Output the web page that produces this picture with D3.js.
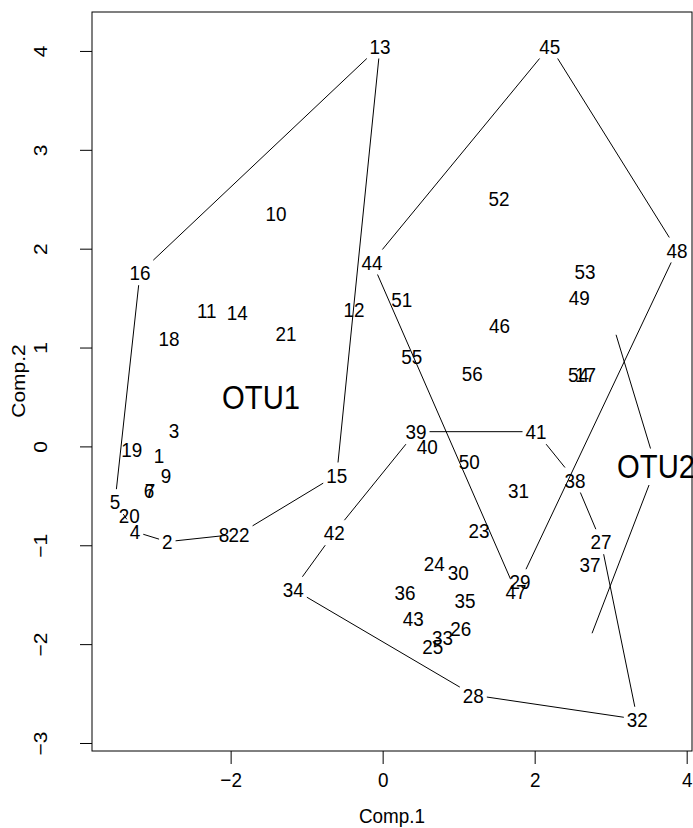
<!DOCTYPE html>
<html lang="en">
<head>
    <meta charset="UTF-8">
    <title>Comp.1 vs Comp.2</title>
    <script src="https://cdn.jsdelivr.net/npm/d3@7"></script>
    <style type="text/css">
        body { margin: 0; background: #fff; }
        text { font-family: "Liberation Sans", Arial, sans-serif; fill: #000; }
        .axis path { display: none; }
        .axis line { stroke: #000; }
    </style>
</head>
<body>
<script>
// sample scores
const sampleIds = d3.range(1, 57).map(String);
const comp1 = [
    -2.942, -2.833, -2.745, -3.258, -3.521, -3.074, -3.061, -2.087, -2.850, -1.403,
    -2.314, -0.376, -0.034, -1.912, -0.604, -3.192,  2.670, -2.811, -3.301, -3.333,
    -1.271, -1.889,  1.268,  0.680,  0.659,  1.028,  2.874,  1.193,  1.808,  0.996,
     1.786,  3.351,  0.786, -1.175,  1.084,  0.295,  2.729,  2.532,  0.439,  0.588,
     2.018, -0.636,  0.404, -0.139,  2.200,  1.536,  1.755,  3.874,  2.588,  1.141,
     0.251,  1.532,  2.663,  2.578,  0.383,  1.180
];
const comp2 = [
    -0.094, -0.964,  0.159, -0.863, -0.559, -0.441, -0.441, -0.886, -0.289,  2.361,
     1.380,  1.390,  4.050,  1.352, -0.289,  1.757,  0.732,  1.093, -0.026, -0.701,
     1.147, -0.886, -0.852, -1.182, -2.019, -1.840, -0.964, -2.515, -1.369, -1.274,
    -0.441, -2.760, -1.931, -1.445, -1.554, -1.480, -1.193, -0.340,  0.149, -0.003,
     0.149, -0.873, -1.739,  1.865,  4.050,  1.221, -1.470,  1.987,  1.504, -0.148,
     1.491,  2.513,  1.767,  0.732,  0.907,  0.739
];

// group labels
const groupNames = ["OTU1", "OTU2"];
const groupX = [-1.600, 3.597];
const groupY = [0.501, -0.206];

// hull outlines (sample ids, closed)
const hullA = ["13", "15", "22", "2", "4", "5", "16"];
const hullB = ["45", "48", "29", "47", "44"];
const hullC = ["39", "41", "38", "27", "32", "28", "34", "42"];
// open outline through the OTU2 label
const otu2LineX = [3.071, 3.597, 2.755];
const otu2LineY = [1.129, -0.206, -1.890];

const xTicks = [-2, 0, 2, 4];
const yTicks = [-3, -2, -1, 0, 1, 2, 3, 4];

const w = 693, h = 828;
const fs = 21, fsBig = 32.5;
const squeeze = 0.9;   // the text in the picture is a little narrow

const svg = d3.select("body").append("svg")
    .attr("width", w)
    .attr("height", h);

const xScale = d3.scaleLinear().domain([-3.824, 4.07]).range([92, 692]);
const yScale = d3.scaleLinear().domain([-3.081, 4.394]).range([751, 12]);

// axes, R style
svg.append("g")
    .attr("class", "axis")
    .attr("transform", "translate(0,751)")
    .call(d3.axisBottom(xScale).tickValues(xTicks).tickSize(13).tickPadding(8))
    .selectAll("text")
    .style("font-size", fs + "px")
    .style("font-family", "Liberation Sans, Arial, sans-serif")
    .attr("transform", `scale(${squeeze},1)`);

svg.append("g")
    .attr("class", "axis")
    .attr("transform", "translate(92,0)")
    .call(d3.axisLeft(yScale).tickValues(yTicks).tickSize(12))
    .selectAll("text")
    .style("font-size", fs + "px")
    .style("font-family", "Liberation Sans, Arial, sans-serif")
    .attr("x", null)
    .attr("dy", "0.36em")
    .attr("text-anchor", "middle")
    .attr("transform", `translate(-52,0) scale(${squeeze},1) rotate(-90)`);

svg.append("text")
    .attr("transform", `translate(392,815) scale(${squeeze},1)`)
    .attr("dy", "0.36em")
    .attr("text-anchor", "middle")
    .style("font-size", fs + "px")
    .text("Comp.1");

svg.append("text")
    .attr("transform", `translate(18,381) scale(${squeeze},1) rotate(-90)`)
    .attr("dy", "0.36em")
    .attr("text-anchor", "middle")
    .style("font-size", fs + "px")
    .text("Comp.2");

svg.append("rect")
    .attr("x", 92).attr("y", 12)
    .attr("width", 600).attr("height", 739)
    .attr("fill", "none")
    .attr("stroke", "#000");

// labels
const labels = svg.append("g");
const boxes = {};
function addLabel(key, cx, cy, size) {
    const t = labels.append("text")
        .attr("transform", `translate(${cx},${cy}) scale(${squeeze},1)`)
        .attr("dy", "0.36em")
        .attr("text-anchor", "middle")
        .style("font-size", size + "px")
        .text(key);
    boxes[key] = {
        x: cx, y: cy,
        hw: t.node().getComputedTextLength() * squeeze / 2 + 3,
        hh: size / 2 + 2
    };
}
sampleIds.forEach((id, i) => addLabel(id, xScale(comp1[i]), yScale(comp2[i]), fs));
groupNames.forEach((g, i) => addLabel(g, xScale(groupX[i]), yScale(groupY[i]), fsBig));

// segment between two labels, stopping at each label's box
function clipSeg(a, b) {
    const dx = b.x - a.x, dy = b.y - a.y;
    const tOut = (p) => Math.min(dx ? p.hw / Math.abs(dx) : Infinity, dy ? p.hh / Math.abs(dy) : Infinity);
    const t0 = tOut(a), t1 = 1 - tOut(b);
    if (t0 >= t1) return null;
    return [a.x + dx * t0, a.y + dy * t0, a.x + dx * t1, a.y + dy * t1];
}

function drawOutline(pts, closed) {
    const segs = [];
    const n = closed ? pts.length : pts.length - 1;
    for (let i = 0; i < n; i++) {
        const s = clipSeg(pts[i], pts[(i + 1) % pts.length]);
        if (s) segs.push(s);
    }
    svg.append("g").selectAll("line")
        .data(segs)
        .enter()
        .append("line")
        .attr("x1", d => d[0]).attr("y1", d => d[1])
        .attr("x2", d => d[2]).attr("y2", d => d[3])
        .attr("stroke", "#000")
        .attr("stroke-width", 1);
}

[hullA, hullB, hullC].forEach(hull => drawOutline(hull.map(id => boxes[id]), true));

const otu2Pts = otu2LineX.map((v, i) => {
    if (i === 1) return boxes["OTU2"];
    return { x: xScale(v), y: yScale(otu2LineY[i]), hw: 0, hh: 0 };
});
drawOutline(otu2Pts, false);
</script>
</body>
</html>
